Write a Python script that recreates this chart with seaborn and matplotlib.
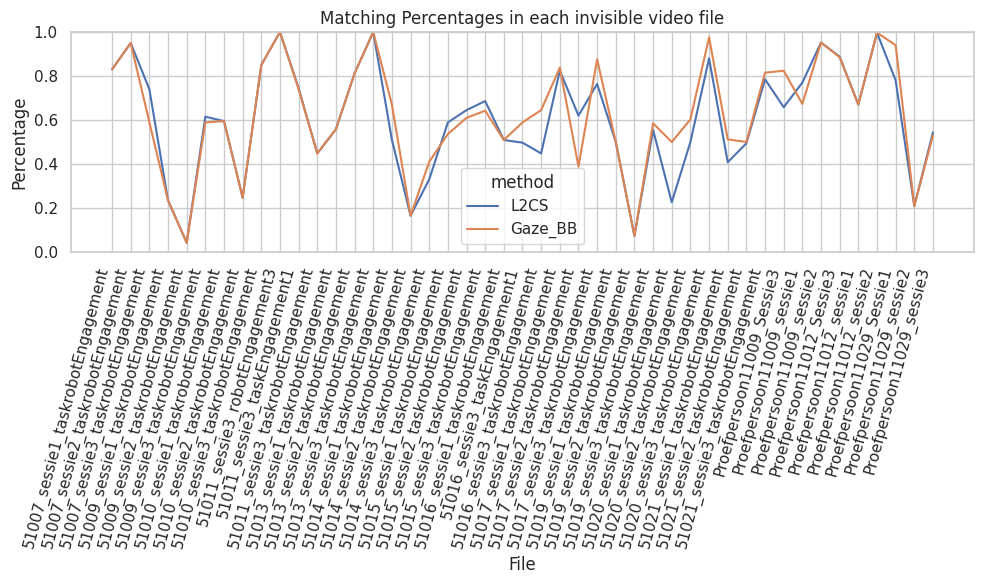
import matplotlib
matplotlib.use("Agg")
import matplotlib.pyplot as plt
import seaborn as sns
import pandas as pd

files = [
    "51007_sessie1_taskrobotEngagement",
    "51007_sessie2_taskrobotEngagement",
    "51007_sessie3_taskrobotEngagement",
    "51009_sessie1_taskrobotEngagement",
    "51009_sessie2_taskrobotEngagement",
    "51009_sessie3_taskrobotEngagement",
    "51010_sessie1_taskrobotEngagement",
    "51010_sessie2_taskrobotEngagement",
    "51010_sessie3_taskrobotEngagement",
    "51011_sessie3_robotEngagement3",
    "51011_sessie3_taskEngagement1",
    "51011_sessie3_taskrobotEngagement",
    "51013_sessie1_taskrobotEngagement",
    "51013_sessie2_taskrobotEngagement",
    "51013_sessie3_taskrobotEngagement",
    "51014_sessie1_taskrobotEngagement",
    "51014_sessie2_taskrobotEngagement",
    "51014_sessie3_taskrobotEngagement",
    "51015_sessie1_taskrobotEngagement",
    "51015_sessie2_taskrobotEngagement",
    "51015_sessie3_taskrobotEngagement",
    "51016_sessie1_taskrobotEngagement",
    "51016_sessie3_taskEngagement1",
    "51016_sessie3_taskrobotEngagement",
    "51017_sessie1_taskrobotEngagement",
    "51017_sessie2_taskrobotEngagement",
    "51017_sessie3_taskrobotEngagement",
    "51019_sessie1_taskrobotEngagement",
    "51019_sessie2_taskrobotEngagement",
    "51019_sessie3_taskrobotEngagement",
    "51020_sessie1_taskrobotEngagement",
    "51020_sessie2_taskrobotEngagement",
    "51020_sessie3_taskrobotEngagement",
    "51021_sessie1_taskrobotEngagement",
    "51021_sessie2_taskrobotEngagement",
    "51021_sessie3_taskrobotEngagement",
    "Proefpersoon11009_Sessie3",
    "Proefpersoon11009_sessie1",
    "Proefpersoon11009_sessie2",
    "Proefpersoon11012_Sessie3",
    "Proefpersoon11012_sessie1",
    "Proefpersoon11012_sessie2",
    "Proefpersoon11029_Sessie1",
    "Proefpersoon11029_sessie2",
    "Proefpersoon11029_sessie3",
]

l2cs = [0.83, 0.95, 0.74, 0.235, 0.042, 0.615, 0.595, 0.247, 0.85, 1.0,
        0.745, 0.448, 0.558, 0.812, 1.0, 0.51, 0.165, 0.33, 0.589, 0.645,
        0.686, 0.509, 0.497, 0.448, 0.825, 0.62, 0.764, 0.50, 0.073, 0.555,
        0.226, 0.50, 0.88, 0.408, 0.494, 0.785, 0.658, 0.77, 0.952, 0.888,
        0.67, 0.997, 0.78, 0.209, 0.544]

gaze_bb = [0.83, 0.95, 0.59, 0.235, 0.042, 0.589, 0.595, 0.247, 0.85, 1.0,
           0.74, 0.448, 0.558, 0.812, 1.0, 0.67, 0.165, 0.41, 0.536, 0.61,
           0.642, 0.509, 0.589, 0.645, 0.838, 0.388, 0.876, 0.50, 0.073, 0.585,
           0.50, 0.603, 0.976, 0.512, 0.50, 0.815, 0.824, 0.673, 0.952, 0.885,
           0.67, 0.997, 0.94, 0.209, 0.53]

methods = ["L2CS", "Gaze_BB"]

df = pd.DataFrame({
    "File": files * 2,
    "method": [methods[0]] * len(files) + [methods[1]] * len(files),
    "Percentage": l2cs + gaze_bb,
})

sns.set_theme(style="whitegrid")
fig, ax = plt.subplots(figsize=(9.84, 5.84), dpi=100)
sns.lineplot(data=df, x="File", y="Percentage", hue="method", ax=ax)
ax.set_title("Matching Percentages in each invisible video file")
ax.set_ylim(0, 1)
plt.setp(ax.get_xticklabels(), rotation=75, ha="right")
sns.move_legend(ax, "lower center")
fig.subplots_adjust(left=71 / 984, right=974 / 984, top=1 - 32 / 584, bottom=1 - 252 / 584)
fig.savefig("out.png", dpi=100)
